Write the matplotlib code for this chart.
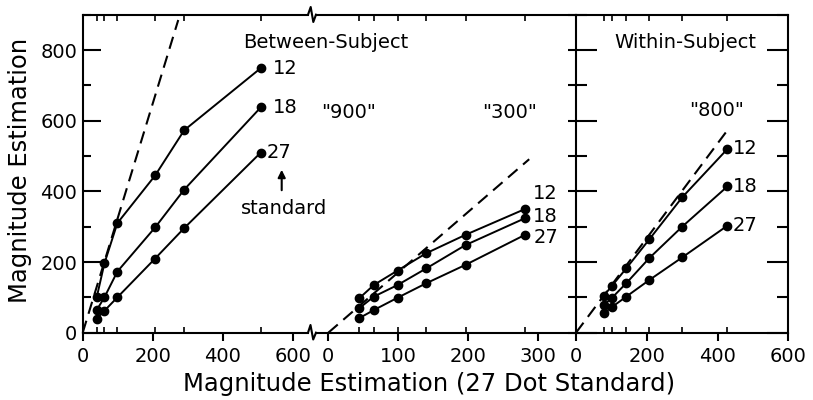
import matplotlib
matplotlib.use("Agg")
import matplotlib.pyplot as plt
from matplotlib.lines import Line2D

# between-subject, x = estimate under the 27 dot standard
bs_x = [40, 62, 99, 207, 290, 509]
bs_12 = [100, 196, 310, 445, 573, 749]
bs_18 = [64, 100, 173, 298, 405, 638]
bs_27 = [40, 62, 100, 210, 296, 510]
ref_900_x = [0, 273]
ref_900_y = [0, 885]

b3_x = [44, 65, 99, 140, 196, 281]
b3_12 = [97, 135, 176, 225, 277, 350]
b3_18 = [69, 102, 135, 182, 248, 324]
b3_27 = [41, 64, 99, 140, 192, 277]
ref_300_x = [0, 287]
ref_300_y = [0, 491]

# within-subject
ws_x = [78, 102, 142, 207, 300, 428]
ws_12 = [104, 133, 182, 264, 383, 520]
ws_18 = [78, 99, 140, 211, 300, 414]
ws_27 = [55, 73, 102, 149, 213, 303]
ref_800_x = [0, 425]
ref_800_y = [0, 569]

standards = ["12", "18", "27"]
y_ticks = [0, 200, 400, 600, 800]

W, H = 813, 400
Y0, Y1 = 332.7, 14.7  # pixel rows of y=0 and y=900
FS = 14
LW = 1.5

fig = plt.figure(figsize=(W / 100, H / 100), dpi=100)


def px_axes(x0, x1):
    return fig.add_axes([x0 / W, (H - Y0) / H, (x1 - x0) / W, (Y0 - Y1) / H])


ax1 = px_axes(82.7, 308)
ax2 = px_axes(316, 576)
ax3 = px_axes(576, 788.3)

ax1.set_xlim(0, (308 - 82.7) / 0.35)
ax2.set_xlim((316 - 328.3) / 0.70, (576 - 328.3) / 0.70)
ax3.set_xlim(0, 600)

panels = [
    (ax1, bs_x, [bs_12, bs_18, bs_27], ref_900_x, ref_900_y, [0, 200, 400, 600]),
    (ax2, b3_x, [b3_12, b3_18, b3_27], ref_300_x, ref_300_y, [0, 100, 200, 300]),
    (ax3, ws_x, [ws_12, ws_18, ws_27], ref_800_x, ref_800_y, [0, 200, 400, 600]),
]

for ax, xs, series, rx, ry, xt in panels:
    ax.set_ylim(0, 900)
    ax.plot(rx, ry, color="black", lw=LW, dashes=(6, 3.5), clip_on=False)
    for ys in series:
        ax.plot(xs, ys, color="black", lw=1.4, marker="o", ms=6, clip_on=False)
    for s in ax.spines.values():
        s.set_linewidth(LW)
    ax.set_xticks(xt)
    ax.set_xticklabels([str(v) for v in xt], fontsize=FS)
    ax.set_xticks(xs, minor=True)
    ax.tick_params(axis="x", which="major", direction="out", length=6, width=LW,
                   pad=4, bottom=True, top=False)
    ax.tick_params(axis="x", which="minor", direction="in", length=4, width=1.2,
                   bottom=True, top=True)
    ax.set_yticks(y_ticks)
    ax.set_yticks([100, 300, 500, 700, 900], minor=True)

# left panel y axis
ax1.spines["right"].set_visible(False)
ax1.set_yticklabels([str(v) for v in y_ticks], fontsize=FS)
ax1.tick_params(axis="y", which="major", direction="in", length=13, width=LW, pad=4,
                left=True, right=False)
ax1.tick_params(axis="y", which="minor", direction="in", length=6, width=LW,
                left=True, right=False)

# middle panel: ticks only against the shared divider
ax2.spines["left"].set_visible(False)
ax2.spines["right"].set_visible(False)
ax2.tick_params(axis="y", which="both", direction="in", length=6, width=LW,
                left=False, right=True, labelleft=False)

ax3.tick_params(axis="y", which="major", direction="in", length=15, width=LW,
                left=True, right=True, labelleft=False)
ax3.tick_params(axis="y", which="minor", direction="in", length=8, width=LW,
                left=True, right=True, labelleft=False)

# axis break marks
for pts in ([(308, Y1), (310.7, 7), (313.3, 22), (316, Y1)],
            [(308, Y0), (310.5, 325), (313.2, 339.5), (316, Y0)]):
    fig.add_artist(Line2D([p[0] / W for p in pts], [1 - p[1] / H for p in pts],
                          color="black", lw=LW, transform=fig.transFigure))


def label_end(ax, xs, ys, text, dx, dy):
    ax.annotate(text, (xs[-1], ys[-1]), xytext=(dx, dy), textcoords="offset points",
                fontsize=FS, va="center", ha="left")


for ys, t in zip([bs_12, bs_18, bs_27], standards):
    label_end(ax1, bs_x, ys, t, 9 if t != "27" else 4, 0)
for ys, t, dy in zip([b3_12, b3_18, b3_27], standards, [11.5, 1.5, -2]):
    label_end(ax2, b3_x, ys, t, 6, dy)
for ys, t in zip([ws_12, ws_18, ws_27], standards):
    label_end(ax3, ws_x, ys, t, 4, 0)


def fig_text(px, py, s, size=FS, **kw):
    fig.text(px / W, 1 - py / H, s, fontsize=size, va="center", **kw)


fig_text(326, 43, "Between-Subject", ha="center")
fig_text(685, 42, "Within-Subject", ha="center")
fig_text(349, 112, '"900"', ha="center")
fig_text(510, 112, '"300"', ha="center")
fig_text(717, 110, '"800"', ha="center")
fig_text(284, 208, "standard", ha="center")
fig.add_artist(plt.matplotlib.patches.FancyArrowPatch(
    (281.7 / W, 1 - 193 / H), (281.7 / W, 1 - 167 / H), transform=fig.transFigure,
    arrowstyle="-|>", mutation_scale=11, color="black", lw=1.5))

fig_text(429, 384, "Magnitude Estimation (27 Dot Standard)", size=17.5, ha="center")
fig.text(20 / W, 1 - 170 / H, "Magnitude Estimation", fontsize=17.5, rotation=90,
         ha="center", va="center")

fig.savefig("out.png", dpi=100, facecolor="white")
